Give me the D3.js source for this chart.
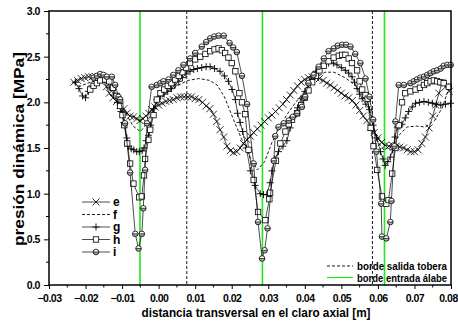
<!DOCTYPE html>
<html lang="es">
<head>
<meta charset="UTF-8">
<title>presión dinámica</title>
<style>
  body { margin: 0; background: #fff; }
  svg text { font-family: "Liberation Sans", Arial, sans-serif; font-weight: bold; fill: #000; }
</style>
</head>
<body>
<svg width=458 height=324 id="viz"></svg>
<script src="https://cdn.jsdelivr.net/npm/d3@7/dist/d3.min.js"></script>
<script>
/* global d3 */

// ---- data ----
const xTicks = [-0.03, -0.02, -0.01, 0.00, 0.01, 0.02, 0.03, 0.04, 0.05, 0.06, 0.07, 0.08];
const yTicks = [0.0, 0.5, 1.0, 1.5, 2.0, 2.5, 3.0];
const nozzleEdges = [0.0077, 0.0585];          // borde salida tobera
const bladeEdges = [-0.0051, 0.0284, 0.0618];  // borde entrada álabe
const seriesNames = ["e", "f", "g", "h", "i"];

const serieE = [
  [-0.0232,2.22],[-0.0222,2.24],[-0.0212,2.26],[-0.0202,2.27],[-0.0192,2.28],[-0.0182,2.28],
  [-0.0172,2.28],[-0.0162,2.27],[-0.0152,2.25],[-0.0143,2.17],[-0.0135,2.10],[-0.0125,2.05],
  [-0.0115,2.01],[-0.0105,1.97],[-0.0095,1.93],[-0.0087,1.88],[-0.0078,1.85],[-0.0069,1.84],
  [-0.0060,1.82],[-0.0051,1.80],[-0.0043,1.82],[-0.0035,1.85],[-0.0027,1.88],[-0.0019,1.92],
  [-0.0010,1.95],[0.000,1.97],[0.001,1.99],[0.002,2.01],[0.003,2.02],[0.004,2.03],[0.005,2.05],
  [0.006,2.06],[0.007,2.06],[0.008,2.06],[0.009,2.06],[0.010,2.04],[0.011,2.03],[0.012,2.00],
  [0.013,1.96],[0.014,1.93],[0.015,1.87],[0.0159,1.79],[0.0168,1.70],[0.0178,1.62],[0.0187,1.52],
  [0.0196,1.47],[0.0205,1.45],[0.0214,1.46],[0.0223,1.50],[0.0232,1.55],[0.0242,1.59],[0.0251,1.63],
  [0.026,1.67],[0.027,1.71],[0.028,1.75],[0.029,1.79],[0.030,1.83],[0.031,1.86],[0.032,1.90],
  [0.033,1.94],[0.034,1.98],[0.035,2.03],[0.036,2.08],[0.037,2.13],[0.038,2.18],[0.039,2.22],
  [0.040,2.25],[0.041,2.27],[0.042,2.28],[0.043,2.27],[0.044,2.26],[0.045,2.24],[0.046,2.21],
  [0.047,2.19],[0.048,2.16],[0.049,2.13],[0.050,2.10],[0.051,2.07],[0.052,2.05],[0.053,2.02],
  [0.054,1.97],[0.055,1.91],[0.056,1.85],[0.057,1.80],[0.058,1.73],[0.059,1.67],[0.060,1.61],
  [0.061,1.56],[0.062,1.53],[0.063,1.52],[0.064,1.53],[0.065,1.52],[0.066,1.51],[0.067,1.50],
  [0.068,1.48],[0.069,1.46],[0.070,1.46],[0.071,1.48],[0.072,1.55],[0.073,1.62],[0.074,1.72],
  [0.075,1.85],[0.0758,1.97],[0.0767,2.10],[0.0776,2.22],[0.0785,2.17],[0.0795,2.12]
];

const serieF = [
  [-0.022,2.17],[-0.018,2.23],[-0.015,2.22],[-0.012,2.10],[-0.009,1.88],[-0.007,1.74],[-0.005,1.68],
  [-0.003,1.78],[-0.001,1.97],[0.002,2.10],[0.005,2.18],[0.008,2.24],[0.011,2.26],[0.014,2.24],
  [0.016,2.19],[0.018,2.06],[0.0205,1.81],[0.023,1.57],[0.025,1.40],[0.027,1.26],[0.029,1.35],
  [0.031,1.56],[0.033,1.72],[0.035,1.86],[0.0375,2.00],[0.040,2.12],[0.043,2.27],[0.0455,2.33],
  [0.048,2.33],[0.051,2.27],[0.054,2.18],[0.057,2.03],[0.0585,1.80],[0.0598,1.58],[0.0616,1.48],
  [0.064,1.53],[0.066,1.65],[0.068,1.73],[0.0705,1.74],[0.073,1.73],[0.0755,1.80],[0.0776,1.94],
  [0.0794,2.15]
];

const serieG = [
  [-0.0228,2.22],[-0.0218,2.15],[-0.0208,2.07],[-0.0200,2.05],[-0.0192,2.12],[-0.0183,2.18],
  [-0.0173,2.23],[-0.0163,2.26],[-0.0153,2.27],[-0.0143,2.24],[-0.0133,2.16],[-0.0123,2.08],
  [-0.0113,2.00],[-0.0103,1.90],[-0.0095,1.78],[-0.0087,1.61],[-0.0082,1.52],[-0.0075,1.49],
  [-0.0068,1.48],[-0.0060,1.46],[-0.0053,1.46],[-0.0045,1.47],[-0.0040,1.50],[-0.0034,1.58],
  [-0.0028,1.64],[-0.0022,1.75],[-0.0014,1.93],[-0.0005,2.03],[0.0005,2.07],[0.0015,2.09],
  [0.0025,2.12],[0.0035,2.15],[0.0045,2.19],[0.0055,2.23],[0.0065,2.27],[0.0075,2.31],
  [0.0086,2.34],[0.0096,2.36],[0.0106,2.37],[0.0118,2.38],[0.013,2.39],[0.0141,2.39],
  [0.0153,2.37],[0.0168,2.34],[0.018,2.29],[0.0191,2.23],[0.0201,2.14],[0.021,2.03],
  [0.0216,1.88],[0.0223,1.78],[0.023,1.68],[0.024,1.50],[0.0251,1.25],[0.0264,1.09],
  [0.0278,1.00],[0.0287,0.99],[0.0296,0.99],[0.0305,1.12],[0.031,1.25],[0.0318,1.38],
  [0.0328,1.46],[0.034,1.52],[0.0351,1.58],[0.036,1.72],[0.0369,1.84],[0.038,1.94],
  [0.039,2.04],[0.040,2.12],[0.041,2.20],[0.042,2.28],[0.043,2.34],[0.0445,2.40],
  [0.0465,2.43],[0.0478,2.43],[0.0488,2.41],[0.050,2.38],[0.0511,2.35],[0.052,2.32],
  [0.0529,2.28],[0.0536,2.22],[0.0543,2.15],[0.055,2.09],[0.0557,2.04],[0.0567,1.98],
  [0.0577,1.92],[0.0587,1.75],[0.0597,1.61],[0.0607,1.46],[0.0614,1.38],[0.062,1.31],
  [0.0627,1.35],[0.0634,1.40],[0.064,1.48],[0.0647,1.62],[0.0653,1.73],[0.066,1.74],
  [0.0666,1.76],[0.0675,1.83],[0.0684,1.90],[0.0694,1.95],[0.0703,1.99],[0.0714,2.00],
  [0.0726,2.01],[0.0738,2.00],[0.0749,1.99],[0.076,1.98],[0.0772,1.97],[0.0785,1.98],
  [0.0799,1.99]
];

const serieH = [
  [-0.0187,2.14],[-0.0178,2.18],[-0.0169,2.21],[-0.016,2.24],[-0.0146,2.25],[-0.0135,2.23],
  [-0.0125,2.16],[-0.0115,2.07],[-0.0105,1.96],[-0.0099,1.86],[-0.0094,1.75],[-0.0086,1.55],
  [-0.0078,1.33],[-0.0069,1.11],[-0.0053,0.96],[-0.0046,0.97],[-0.0040,1.20],[-0.0037,1.38],
  [-0.0028,1.59],[-0.0023,1.70],[-0.0014,1.86],[-0.0005,2.03],[0.0005,2.10],[0.0015,2.14],
  [0.0025,2.18],[0.0035,2.21],[0.0045,2.25],[0.0055,2.29],[0.0065,2.33],[0.0075,2.38],
  [0.0086,2.43],[0.010,2.47],[0.0114,2.50],[0.0128,2.53],[0.0141,2.56],[0.0153,2.58],
  [0.0164,2.59],[0.0173,2.57],[0.0182,2.54],[0.0191,2.49],[0.020,2.43],[0.021,2.34],
  [0.0221,2.10],[0.0228,2.00],[0.0237,1.87],[0.0246,1.48],[0.026,1.15],[0.0272,0.80],
  [0.0292,0.71],[0.0303,0.94],[0.0305,1.01],[0.0321,1.36],[0.0333,1.55],[0.0347,1.68],
  [0.0356,1.76],[0.0365,1.81],[0.0379,1.88],[0.039,1.97],[0.040,2.05],[0.041,2.13],
  [0.042,2.22],[0.043,2.29],[0.044,2.35],[0.0452,2.40],[0.0465,2.45],[0.0479,2.49],
  [0.0493,2.51],[0.0502,2.52],[0.0511,2.52],[0.052,2.48],[0.0529,2.43],[0.0543,2.35],
  [0.055,2.23],[0.0557,2.14],[0.0566,2.08],[0.0572,2.04],[0.058,1.72],[0.0588,1.52],
  [0.0598,1.26],[0.0611,0.97],[0.0623,0.89],[0.0629,0.93],[0.0639,1.22],[0.0648,1.50],
  [0.0657,1.75],[0.0666,2.00],[0.0675,2.10],[0.0689,2.12],[0.0703,2.14],[0.0715,2.16],
  [0.0726,2.19],[0.0735,2.21],[0.0744,2.23],[0.0753,2.24],[0.0762,2.23],[0.0771,2.22],
  [0.078,2.21],[0.0794,2.17]
];

const serieI = [
  [-0.0178,2.27],[-0.0169,2.29],[-0.016,2.31],[-0.0151,2.30],[-0.0142,2.28],[-0.0128,2.28],
  [-0.0119,2.19],[-0.011,2.06],[-0.0105,2.03],[-0.0092,1.77],[-0.0078,1.23],[-0.0064,0.56],
  [-0.0055,0.40],[-0.0046,0.56],[-0.0042,0.84],[-0.0037,1.26],[-0.0032,1.77],[-0.0019,2.17],
  [-0.0005,2.19],[0.0005,2.21],[0.0013,2.23],[0.0027,2.25],[0.004,2.30],[0.0054,2.35],
  [0.0068,2.41],[0.0086,2.48],[0.010,2.54],[0.0118,2.61],[0.013,2.66],[0.0141,2.70],
  [0.0152,2.72],[0.0164,2.73],[0.0178,2.73],[0.0194,2.65],[0.0204,2.60],[0.0214,2.55],
  [0.0228,2.29],[0.0242,1.98],[0.026,1.33],[0.0272,0.69],[0.0283,0.29],[0.029,0.38],
  [0.0298,0.62],[0.0315,1.36],[0.0319,1.63],[0.0328,1.73],[0.0342,1.77],[0.0356,1.80],
  [0.0367,1.84],[0.0379,1.88],[0.0392,1.95],[0.0401,2.06],[0.041,2.21],[0.0424,2.30],
  [0.0438,2.39],[0.0452,2.48],[0.0465,2.56],[0.0479,2.59],[0.049,2.62],[0.0502,2.63],
  [0.0513,2.63],[0.0525,2.61],[0.0538,2.53],[0.0552,2.43],[0.0566,2.26],[0.0577,2.06],
  [0.0587,1.81],[0.0596,1.46],[0.0609,0.89],[0.0611,0.53],[0.0623,0.51],[0.0634,0.69],
  [0.0637,0.92],[0.0645,1.52],[0.0648,1.79],[0.0657,2.19],[0.0671,2.19],[0.0689,2.21],
  [0.0698,2.23],[0.0707,2.25],[0.0716,2.27],[0.0726,2.28],[0.0735,2.30],[0.0744,2.32],
  [0.0753,2.34],[0.0762,2.35],[0.0772,2.37],[0.078,2.40],[0.079,2.41],[0.0799,2.41]
];

// ---- chart ----
let svg = d3.select("#viz"),
  margin = {top: 11, right: 7, bottom: 39, left: 49},
  width = +svg.attr("width") - margin.left - margin.right,
  height = +svg.attr("height") - margin.top - margin.bottom;

let x = d3.scaleLinear().domain([-0.03, 0.08]).range([margin.left, margin.left + width]);
let y = d3.scaleLinear().domain([0, 3]).range([margin.top + height, margin.top]);

const green = "#1ee81e";

// vertical reference lines
svg.selectAll(".nozzle").data(nozzleEdges).enter().append("line")
  .attr("class", "nozzle")
  .attr("x1", d => x(d)).attr("x2", d => x(d))
  .attr("y1", y(3)).attr("y2", y(0))
  .attr("stroke", "#000").attr("stroke-width", 0.9).attr("stroke-dasharray", "3,2");

svg.selectAll(".blade").data(bladeEdges).enter().append("line")
  .attr("class", "blade")
  .attr("x1", d => x(d)).attr("x2", d => x(d))
  .attr("y1", y(3)).attr("y2", y(0))
  .attr("stroke", green).attr("stroke-width", 1.6);

// markers
function drawMarker(sel, type) {
  if (type === "e") {
    sel.append("path").attr("d", "M-3.5,-3.5L3.5,3.5M-3.5,3.5L3.5,-3.5")
      .attr("stroke", "#000").attr("stroke-width", 0.8).attr("fill", "none");
  } else if (type === "g") {
    sel.append("path").attr("d", "M-3.5,0L3.5,0M0,-3.5L0,3.5")
      .attr("stroke", "#000").attr("stroke-width", 0.9).attr("fill", "none");
  } else if (type === "h") {
    sel.append("rect").attr("x", -2.7).attr("y", -2.7).attr("width", 5.4).attr("height", 5.4)
      .attr("fill", "#fff").attr("stroke", "#000").attr("stroke-width", 0.8);
  } else if (type === "i") {
    sel.append("circle").attr("r", 2.8).attr("fill", "#fff");
    sel.append("path").attr("d", "M-2.8,0A2.8,2.8 0 0 0 2.8,0Z").attr("fill", "#aaa");
    sel.append("circle").attr("r", 2.8).attr("fill", "none")
      .attr("stroke", "#000").attr("stroke-width", 0.8);
    sel.append("line").attr("x1", -2.8).attr("x2", 2.8)
      .attr("stroke", "#000").attr("stroke-width", 0.7);
  }
}

let line = d3.line().x(d => x(d[0])).y(d => y(d[1]));
const allSeries = {e: serieE, f: serieF, g: serieG, h: serieH, i: serieI};

seriesNames.forEach(name => {
  let data = allSeries[name];
  let g = svg.append("g").attr("class", "serie-" + name);
  g.append("path").datum(data)
    .attr("d", line)
    .attr("fill", "none")
    .attr("stroke", "#000")
    .attr("stroke-width", name === "f" ? 0.9 : 0.7)
    .attr("stroke-dasharray", name === "f" ? "3,2" : null);
  if (name !== "f") {
    g.selectAll(".pt").data(data).enter().append("g")
      .attr("class", "pt")
      .attr("transform", d => "translate(" + x(d[0]) + "," + y(d[1]) + ")")
      .each(function() { drawMarker(d3.select(this), name); });
  }
});

// axes
let xAxis = d3.axisBottom(x).tickValues(xTicks).tickSize(4).tickFormat(d3.format(".2f"));
let yAxis = d3.axisLeft(y).tickValues(yTicks).tickSize(5).tickFormat(d3.format(".1f"));

let gx = svg.append("g").attr("transform", "translate(0," + y(0) + ")").call(xAxis);
let gy = svg.append("g").attr("transform", "translate(" + x(-0.03) + ",0)").call(yAxis);

// minor ticks
let xMinor = xTicks.slice(0, -1).map(d => d + 0.005);
let yMinor = yTicks.slice(0, -1).map(d => d + 0.25);
gx.selectAll(".minor").data(xMinor).enter().append("line")
  .attr("x1", d => x(d)).attr("x2", d => x(d)).attr("y1", 0).attr("y2", 2.5)
  .attr("stroke", "#000");
gy.selectAll(".minor").data(yMinor).enter().append("line")
  .attr("y1", d => y(d)).attr("y2", d => y(d)).attr("x1", 0).attr("x2", -3)
  .attr("stroke", "#000");

[gx, gy].forEach(a => {
  a.select(".domain").remove();
  a.selectAll(".tick line").attr("stroke", "#000").attr("stroke-width", 1);
  a.selectAll(".tick text").attr("font-size", 10.5)
    .style("font-family", "'Liberation Sans', Arial, sans-serif").style("font-weight", "bold")
    .attr("letter-spacing", -0.5);
});
gx.selectAll(".tick text").attr("dy", "0.95em");
gx.selectAll(".tick text").filter(d => d === 0.08).attr("dx", -3);
gy.selectAll(".tick text").attr("dx", "-0.1em");

// frame
svg.append("rect")
  .attr("x", x(-0.03)).attr("y", y(3))
  .attr("width", x(0.08) - x(-0.03)).attr("height", y(0) - y(3))
  .attr("fill", "none").attr("stroke", "#000").attr("stroke-width", 1.5);

// axis titles
svg.append("text")
  .attr("x", (x(-0.03) + x(0.08)) / 2 + 6).attr("y", 317)
  .attr("text-anchor", "middle").attr("font-size", 13)
  .attr("textLength", 229).attr("lengthAdjust", "spacingAndGlyphs")
  .text("distancia transversal en el claro axial [m]");

svg.append("text")
  .attr("transform", "translate(24,149) rotate(-90)")
  .attr("text-anchor", "middle").attr("font-size", 14)
  .attr("textLength", 194).attr("lengthAdjust", "spacingAndGlyphs")
  .text("presión dinámica [MPa]");

// series legend
let legend = svg.append("g").attr("class", "legend");
seriesNames.forEach((name, k) => {
  let ly = 202 + k * 12.5;
  legend.append("line").attr("x1", 82).attr("x2", 110).attr("y1", ly).attr("y2", ly)
    .attr("stroke", "#000").attr("stroke-width", name === "f" ? 0.9 : 0.7)
    .attr("stroke-dasharray", name === "f" ? "3,2" : null);
  drawMarker(legend.append("g").attr("transform", "translate(96," + ly + ")"), name);
  legend.append("text").attr("x", 113).attr("y", ly + 4).attr("font-size", 12).text(name);
});

// reference line legend
let legend2 = svg.append("g").attr("class", "legend2");
legend2.append("line").attr("x1", 327).attr("x2", 353).attr("y1", 266).attr("y2", 266)
  .attr("stroke", "#000").attr("stroke-width", 0.9).attr("stroke-dasharray", "3,2");
legend2.append("text").attr("x", 357).attr("y", 270).attr("font-size", 11)
  .attr("textLength", 90).attr("lengthAdjust", "spacingAndGlyphs")
  .text("borde salida tobera");
legend2.append("line").attr("x1", 327).attr("x2", 353).attr("y1", 277.5).attr("y2", 277.5)
  .attr("stroke", green).attr("stroke-width", 1.2);
legend2.append("text").attr("x", 357).attr("y", 281.5).attr("font-size", 11)
  .attr("textLength", 90).attr("lengthAdjust", "spacingAndGlyphs")
  .text("borde entrada álabe");
</script>
</body>
</html>
